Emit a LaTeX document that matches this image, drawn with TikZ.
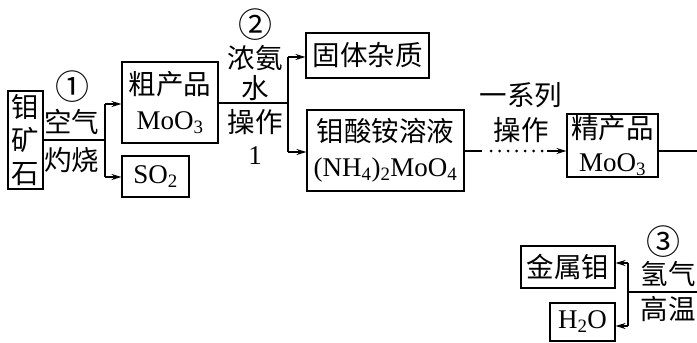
\documentclass[tikz,border=0pt]{standalone}
\usepackage{fontspec}
\setmainfont{Liberation Serif}
\newfontfamily\cjk{Noto Sans CJK SC}
\usetikzlibrary{arrows.meta}
\newcommand\zh[1]{{\cjk\fontsize{27.5}{34}\selectfont #1}}
\newcommand\circnum[1]{{\cjk\fontsize{34}{36}\selectfont #1}}
\tikzset{
  box/.style={draw, line width=1.1pt, inner sep=0pt, align=center},
  lbl/.style={inner sep=0pt, align=center},
  conn/.style={line width=1.1pt},
  arr/.style={conn, -{Stealth[length=10pt,width=6pt]}},
}
\begin{document}
\begin{tikzpicture}[x=1pt, y=-1pt, font=\fontsize{27}{35}\selectfont]
\useasboundingbox (0,0) rectangle (697,343);
% boxes
\node[box, minimum width=35pt, minimum height=98pt, font=\fontsize{27}{33}\selectfont] (ore) at (25.5,140) {\zh{钼}\\\zh{矿}\\\zh{石}};
\node[box, minimum width=96pt, minimum height=81pt] (crude) at (170,102.5) {\zh{粗产品}\\MoO\textsubscript{3}};
\node[box, minimum width=67pt, minimum height=41pt] (so2) at (155.5,176.5) {SO\textsubscript{2}};
\node[box, minimum width=123pt, minimum height=45pt] (solid) at (367.5,55.5) {\zh{固体杂质}};
\node[box, minimum width=157pt, minimum height=81pt] (amm) at (385.5,150.5) {\zh{钼酸铵溶液}\\(NH\textsubscript{4})\textsubscript{2}MoO\textsubscript{4}};
\node[box, minimum width=91pt, minimum height=63pt, font=\fontsize{27}{33}\selectfont] (fine) at (612.5,145.5) {\zh{精产品}\\MoO\textsubscript{3}};
\node[box, minimum width=94pt, minimum height=42pt] (mo) at (568,267) {\zh{金属钼}};
\node[box, minimum width=65pt, minimum height=38pt] (h2o) at (582.5,322) {H\textsubscript{2}O};
% labels
\node[lbl] (c1) at (72,87) {\circnum{①}};
\node[lbl] (air) at (72,122) {\zh{空气}};
\node[lbl] (burn) at (72,160) {\zh{灼烧}};
\node[lbl] (c2) at (255,25) {\circnum{②}};
\node[lbl] (nh3a) at (255,58) {\zh{浓氨}};
\node[lbl] (nh3b) at (255,88) {\zh{水}};
\node[lbl] (op1a) at (255,122) {\zh{操作}};
\node[lbl] (op1b) at (255,156) {1};
\node[lbl] (ser) at (521,95) {\zh{一系列}};
\node[lbl] (ser2) at (521,130) {\zh{操作}};
\node[lbl] (c3) at (663,242) {\circnum{③}};
\node[lbl] (h2) at (668,274) {\zh{氢气}};
\node[lbl] (hot) at (668,309) {\zh{高温}};
% junction coordinates
\coordinate (j1) at (105,140);
\coordinate (j1t) at (105,104);
\coordinate (j1b) at (105,177);
\coordinate (j2) at (288,103);
\coordinate (j2t) at (288,57);
\coordinate (j2b) at (288,152);
\coordinate (d1) at (482,151);
\coordinate (d2) at (491,151);
\coordinate (d3) at (542,151);
\coordinate (d4) at (547,151);
\coordinate (e1) at (697,151);
\coordinate (j3) at (628,292);
\coordinate (j3t) at (628,263);
\coordinate (j3b) at (628,326);
\coordinate (e2) at (697,292);
% connectors
\draw[conn] (ore.east |- j1) -- (j1);
\draw[conn] (j1t) -- (j1b);
\draw[arr] (j1t) -- (crude.west |- j1t);
\draw[arr] (j1b) -- (so2.west |- j1b);
\draw[conn] (crude.east |- j2) -- (j2);
\draw[conn] (j2t) -- (j2b);
\draw[arr] (j2t) -- (solid.west |- j2t);
\draw[arr] (j2b) -- (amm.west |- j2b);
\draw[conn] (amm.east |- d1) -- (d1);
\draw[line width=3pt, line cap=round, dash pattern=on 0pt off 8.5pt] (d2) -- (d3);
\draw[arr] (d4) -- (fine.west |- d4);
\draw[conn] (fine.east |- e1) -- (e1);
\draw[conn] (j3) -- (e2);
\draw[conn] (j3t) -- (j3b);
\draw[arr] (j3t) -- (mo.east |- j3t);
\draw[arr] (j3b) -- (h2o.east |- j3b);
\end{tikzpicture}
\end{document}
